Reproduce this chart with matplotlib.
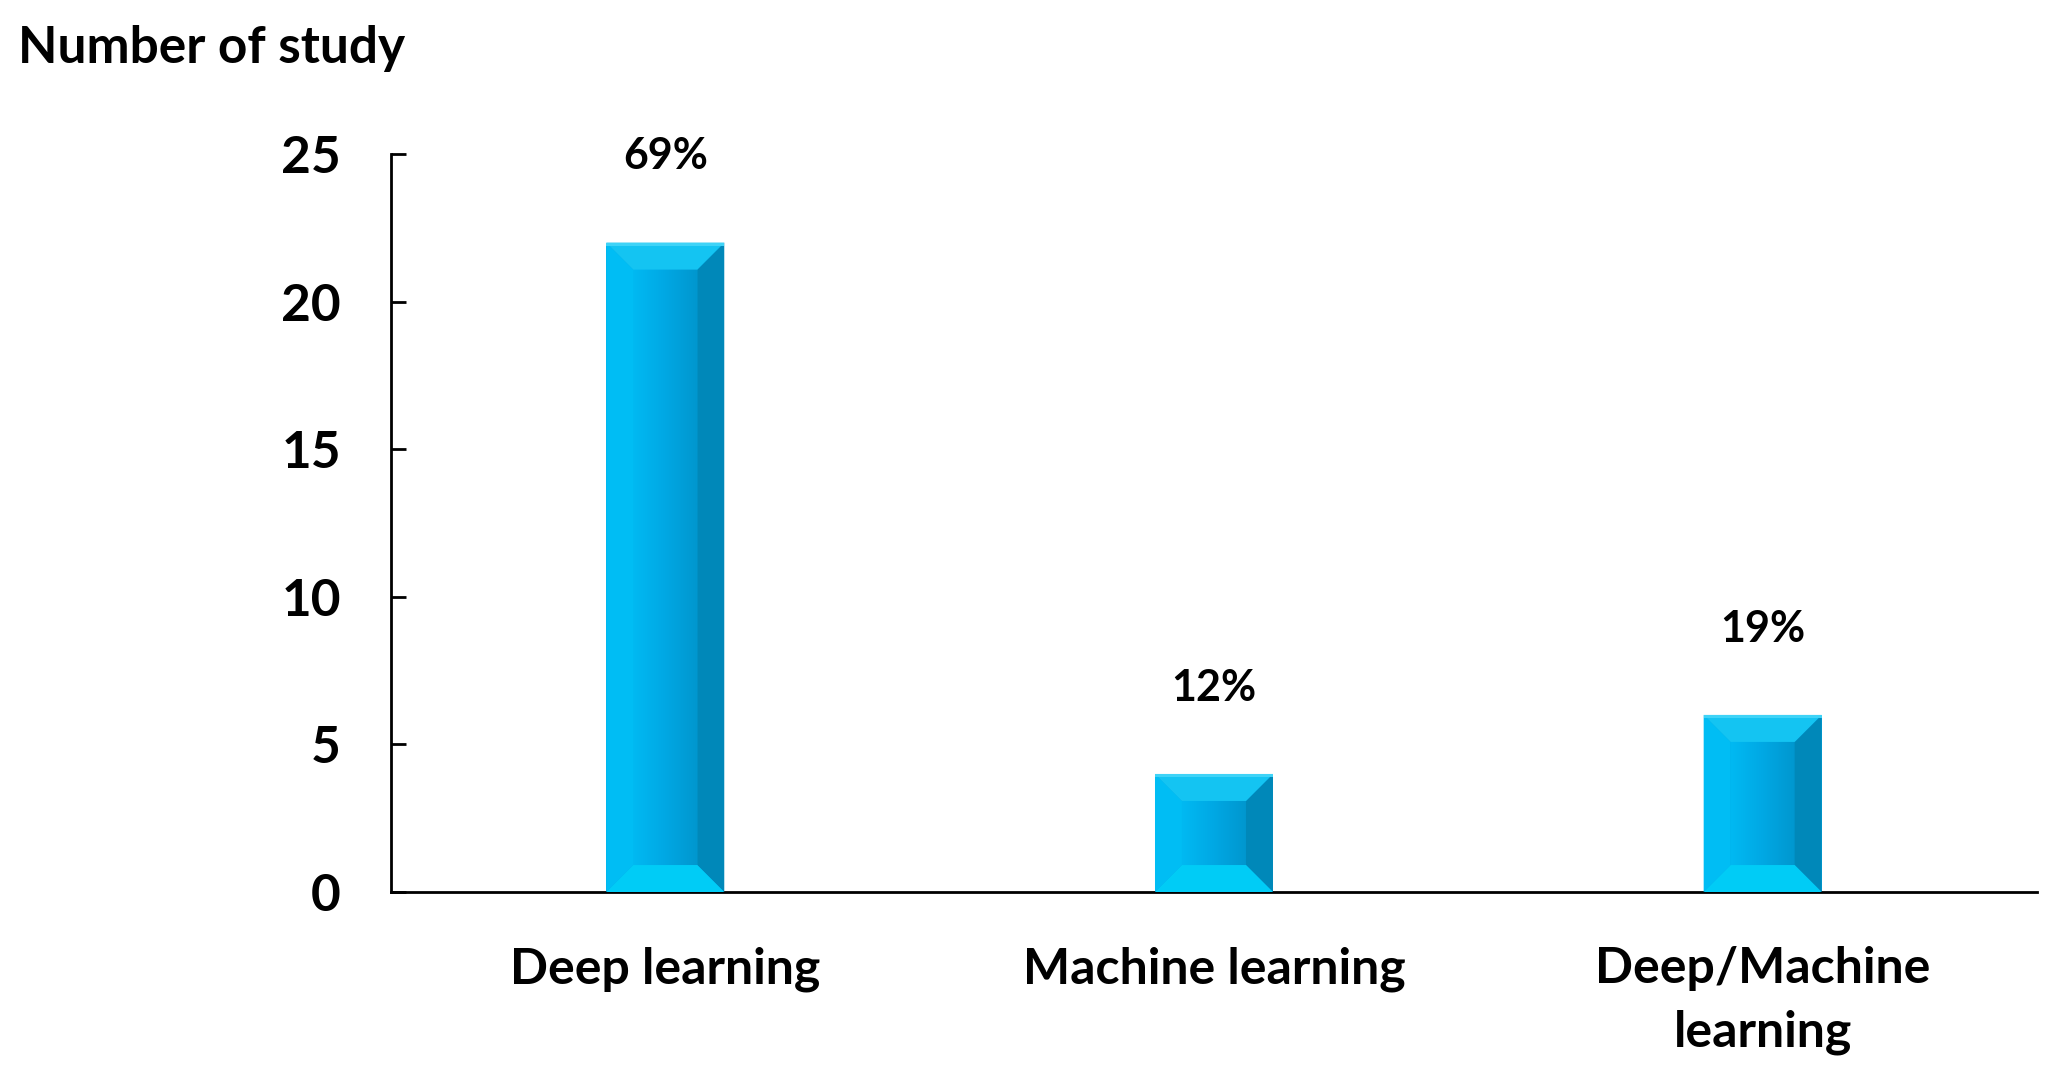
import matplotlib
matplotlib.use('Agg')
import matplotlib.pyplot as plt
import numpy as np
from matplotlib.patches import Polygon
from matplotlib.colors import LinearSegmentedColormap

categories = ['Deep learning', 'Machine learning', 'Deep/Machine\nlearning']
study_counts = [22, 4, 6]
percent_labels = ['69%', '12%', '19%']

plt.rcParams['font.family'] = ['Lato', 'DejaVu Sans']
plt.rcParams['font.weight'] = 'bold'

fig = plt.figure(figsize=(20.63, 10.81), dpi=100)
ax = fig.add_axes([0.1895, 0.1748, 0.7979, 0.6827])

x = list(range(len(categories)))
bar_w = 0.215
bars = ax.bar(x, study_counts, width=bar_w, color='#00A9E6', zorder=2)

ax.set_xlim(-0.5, 2.5)
ax.set_ylim(0, 25)
ax.set_yticks([0, 5, 10, 15, 20, 25])
ax.set_xticks(x)
ax.set_xticklabels(categories, fontsize=36, fontweight='bold', linespacing=1.5)
ax.tick_params(axis='y', direction='in', length=11, width=2, pad=36, labelsize=37)
ax.tick_params(axis='x', length=0, pad=39)
for lbl in ax.get_yticklabels():
    lbl.set_fontweight('bold')

ax.spines['top'].set_visible(False)
ax.spines['right'].set_visible(False)
ax.spines['left'].set_linewidth(2)
ax.spines['bottom'].set_linewidth(2)

# bevel look on each bar, bevel size given in pixels
fig.canvas.draw()
bbox = ax.get_window_extent()
px_x = (ax.get_xlim()[1] - ax.get_xlim()[0]) / bbox.width
px_y = (ax.get_ylim()[1] - ax.get_ylim()[0]) / bbox.height
bev = 27
face_cmap = LinearSegmentedColormap.from_list('face', ['#00B9F2', '#00A8E4', '#0097CF'])
grad = np.linspace(0, 1, 64).reshape(1, -1)
for b in bars:
    x0, w, h = b.get_x(), b.get_width(), b.get_height()
    x1 = x0 + w
    bx, by = bev * px_x, bev * px_y
    ax.imshow(grad, cmap=face_cmap, extent=(x0 + bx, x1 - bx, by, h - by),
              aspect='auto', zorder=2.5, interpolation='bilinear')
    faces = [
        ([(x0, 0), (x0 + bx, by), (x0 + bx, h - by), (x0, h)], '#00BDF4'),
        ([(x1, 0), (x1 - bx, by), (x1 - bx, h - by), (x1, h)], '#0088B9'),
        ([(x0, h), (x0 + bx, h - by), (x1 - bx, h - by), (x1, h)], '#14C4F2'),
        ([(x0, 0), (x0 + bx, by), (x1 - bx, by), (x1, 0)], '#00CCF6'),
    ]
    for pts, c in faces:
        ax.add_patch(Polygon(pts, closed=True, facecolor=c, edgecolor='none', zorder=3))
    ax.add_patch(Polygon([(x0, h), (x1, h), (x1, h - px_y * 3), (x0, h - px_y * 3)],
                         closed=True, facecolor='#3FD3F7', edgecolor='none', zorder=4))

ax.set_xlim(-0.5, 2.5)
ax.set_ylim(0, 25)

for xi, v, lab in zip(x, study_counts, percent_labels):
    ax.annotate(lab, (xi, v), xytext=(0, 62), textcoords='offset points',
                ha='center', va='center', fontsize=31, fontweight='bold')

fig.text(18 / 2063, 1 - 49 / 1081, 'Number of study', ha='left', va='center',
         fontsize=37, fontweight='bold')

fig.savefig('out.png', dpi=100)
